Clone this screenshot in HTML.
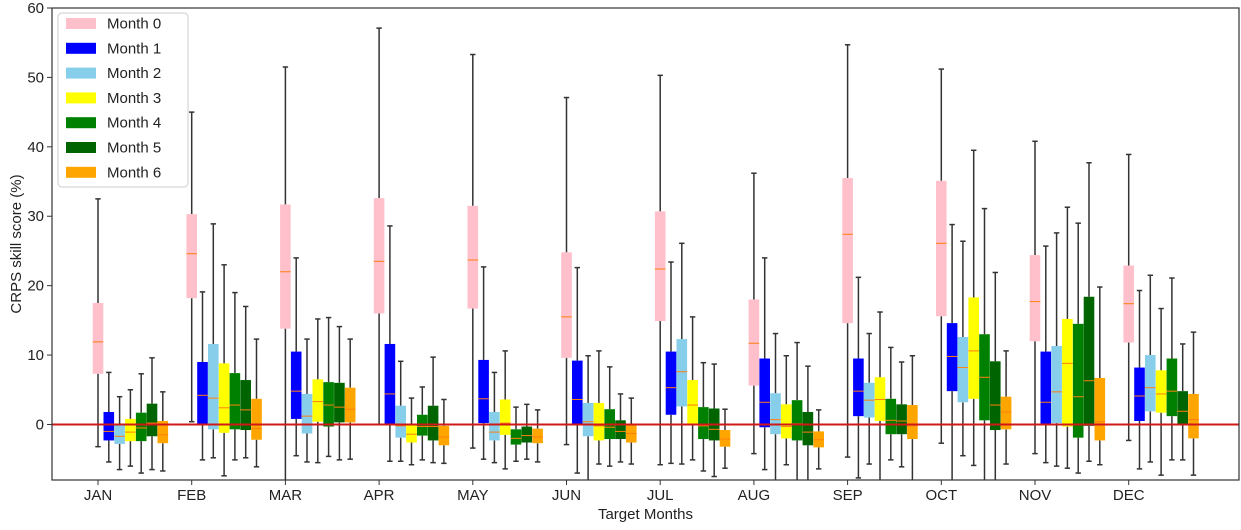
<!DOCTYPE html>
<html><head><meta charset="utf-8"><style>
body{margin:0;background:#fff;font-family:"Liberation Sans",sans-serif}
</style></head><body>
<svg id="chart" width="1241" height="525" xmlns="http://www.w3.org/2000/svg" font-family="Liberation Sans, sans-serif"></svg>
<script>
const categories=["JAN","FEB","MAR","APR","MAY","JUN","JUL","AUG","SEP","OCT","NOV","DEC"];
const seriesNames=["Month 0","Month 1","Month 2","Month 3","Month 4","Month 5","Month 6"];
const seriesColors=["#ffc0cb","#0000ff","#87ceeb","#ffff00","#008000","#006400","#ffa500"];
const yTicks=[0,10,20,30,40,50,60];
// each entry: [whislo, q1, median, q3, whishi]; stats[month][series]
const statsJAN=[[-3.2,7.3,11.9,17.5,32.5],[-5.4,-2.3,-1.0,1.8,7.5],[-6.5,-2.8,-1.7,0.1,4.0],[-6.0,-2.4,-1.1,0.8,5.0],[-7.0,-2.4,-0.5,1.7,7.3],[-6.5,-1.7,0.2,3.0,9.6],[-6.7,-2.7,-1.5,0.5,4.7]];
const statsFEB=[[0.4,18.2,24.6,30.3,45.0],[-5.1,0.0,4.2,9.0,19.1],[-4.8,-0.7,3.8,11.6,28.9],[-7.4,-1.2,2.4,8.8,23.0],[-5.1,-0.7,2.8,7.4,19.0],[-4.8,-0.8,2.1,6.4,17.0],[-6.1,-2.2,-0.6,3.7,12.3]];
const statsMAR=[[-9.0,13.8,22.0,31.7,51.5],[-4.5,0.8,4.8,10.5,24.0],[-5.4,-1.3,1.2,4.4,12.3],[-5.5,0.4,3.3,6.5,15.2],[-4.6,-0.3,2.8,6.1,15.4],[-5.1,0.3,2.5,6.0,14.1],[-5.0,0.3,2.2,5.3,12.3]];
const statsAPR=[[0.0,16.0,23.5,32.6,57.1],[-5.3,-0.1,4.4,11.6,28.6],[-5.3,-1.9,-0.2,2.7,9.1],[-5.8,-2.6,-1.4,0.1,3.8],[-5.1,-1.6,-0.3,1.4,5.4],[-5.5,-2.3,-0.3,2.7,9.7],[-5.6,-3.0,-1.8,-0.2,3.6]];
const statsMAY=[[-3.4,16.7,23.7,31.5,53.3],[-5.0,0.2,3.7,9.3,22.7],[-5.5,-2.3,-1.1,1.8,7.5],[-6.4,-1.5,0.2,3.6,10.6],[-5.3,-2.9,-2.0,-0.7,2.5],[-5.0,-2.6,-1.6,-0.3,2.9],[-5.4,-2.7,-1.8,-0.6,2.1]];
const statsJUN=[[-2.9,9.6,15.5,24.8,47.1],[-7.0,-0.1,3.6,9.2,22.6],[-9.0,-1.7,0.4,3.1,9.9],[-5.7,-2.3,-0.2,3.1,10.6],[-6.0,-2.1,-0.4,2.2,8.3],[-5.4,-2.1,-1.0,0.6,4.4],[-5.7,-2.6,-1.3,0.1,3.8]];
const statsJUL=[[-5.8,14.9,22.4,30.7,50.3],[-5.6,1.4,5.3,10.5,23.4],[-5.7,2.6,7.6,12.3,26.1],[-5.1,-0.1,2.8,6.4,15.5],[-6.7,-2.1,-0.2,2.5,8.9],[-7.5,-2.3,-0.7,2.3,8.7],[-6.3,-3.2,-2.1,-0.8,2.2]];
const statsAUG=[[-4.2,5.6,11.7,18.0,36.2],[-6.5,-0.4,3.2,9.5,24.0],[-9.0,-1.4,0.7,4.5,13.1],[-5.8,-2.0,-0.3,2.9,9.9],[-9.0,-2.3,0.1,3.5,11.8],[-9.0,-3.0,-1.1,1.8,8.4],[-6.4,-3.3,-2.2,-1.0,2.1]];
const statsSEP=[[-4.7,14.6,27.4,35.5,54.7],[-7.7,1.2,4.8,9.5,21.2],[-5.7,1.0,3.5,6.0,13.1],[-9.0,0.5,3.6,6.8,16.2],[-5.1,-1.4,0.6,3.7,11.1],[-6.1,-1.4,0.5,2.9,9.0],[-9.0,-2.1,-0.2,2.8,9.9]];
const statsOCT=[[-2.7,15.6,26.1,35.1,51.2],[-9.0,4.8,9.8,14.6,28.8],[-4.5,3.2,8.2,12.6,26.4],[-5.9,3.7,10.6,18.3,39.5],[-9.0,0.6,6.8,13.0,31.1],[-9.0,-0.8,2.8,9.1,21.9],[-5.7,-0.7,1.8,4.0,10.6]];
const statsNOV=[[-4.2,12.0,17.7,24.4,40.8],[-5.5,-0.1,3.2,10.5,25.7],[-6.0,0.2,4.7,11.3,27.6],[-6.3,-0.3,8.8,15.2,31.3],[-7.0,-1.9,4.0,14.5,29.0],[-5.3,-0.2,6.3,18.4,37.7],[-5.8,-2.3,0.4,6.7,19.8]];
const statsDEC=[[-2.3,11.8,17.4,22.9,38.9],[-6.4,0.5,4.1,8.2,19.3],[-5.4,1.9,5.3,10.0,21.5],[-7.3,1.7,4.4,7.8,16.7],[-5.1,1.2,4.8,9.5,21.1],[-5.1,0.0,1.9,4.8,11.6],[-7.3,-2.0,0.7,4.4,13.3]];
const stats=[statsJAN,statsFEB,statsMAR,statsAPR,statsMAY,statsJUN,statsJUL,statsAUG,statsSEP,statsOCT,statsNOV,statsDEC];

const NS="http://www.w3.org/2000/svg";
const svg=document.getElementById('chart');
const L=52,R=1239,T=8,B=480,yMin=-8,yMax=60;
const x0=98,xStep=93.7,boxStep=10.8,boxW=10.6;
const X=i=>x0+i*xStep;
const Y=v=>B-(v-yMin)/(yMax-yMin)*(B-T);
function el(tag,attrs,parent){const e=document.createElementNS(NS,tag);for(const k in attrs)e.setAttribute(k,attrs[k]);(parent||svg).appendChild(e);return e;}
const defs=el('defs',{});
const cp=el('clipPath',{id:'clip'},defs);
el('rect',{x:L,y:T,width:R-L,height:B-T},cp);
const plot=el('g',{'clip-path':'url(#clip)'});


stats.forEach((month,i)=>{
  const g=el('g',{},plot);
  
  
  month.forEach((s,k)=>{
    const cx=X(i)+k*boxStep;
    const [lo,q1,md,q3,hi]=s;
    const wg=el('g',{stroke:'#333',"stroke-width":1.5},g);
    
    
    el('line',{x1:cx,x2:cx,y1:Y(hi),y2:Y(q3)},wg);
    el('line',{x1:cx,x2:cx,y1:Y(q1),y2:Y(lo)},wg);
    el('line',{x1:cx-2.7,x2:cx+2.7,y1:Y(hi),y2:Y(hi)},wg);
    el('line',{x1:cx-2.7,x2:cx+2.7,y1:Y(lo),y2:Y(lo)},wg);
    const r=el('rect',{x:cx-boxW/2,y:Y(q3),width:boxW,height:Y(q1)-Y(q3),fill:seriesColors[k]},g);
    
    
    const m=el('line',{x1:cx-boxW/2,x2:cx+boxW/2,y1:Y(md),y2:Y(md),stroke:'#ff7f0e',"stroke-width":1},g);
    
    
  });
});
const zl=el('line',{x1:L,x2:R,y1:Y(0),y2:Y(0),stroke:'#d01818',"stroke-width":2},plot);


const frame=el('rect',{x:L,y:T,width:R-L,height:B-T,fill:'none',stroke:'#333',"stroke-width":1.2});


yTicks.forEach(v=>{
  el('line',{x1:L-5,x2:L,y1:Y(v),y2:Y(v),stroke:'#333'});
  const t=el('text',{x:L-8,y:Y(v)+5,"text-anchor":'end',"font-size":15,fill:'#222'});
  t.textContent=v;
  
  
});
categories.forEach((c,i)=>{
  el('line',{x1:X(i),x2:X(i),y1:B,y2:B+5,stroke:'#333'});
  const t=el('text',{x:X(i),y:B+20,"text-anchor":'middle',"font-size":15,fill:'#222'});
  t.textContent=c;
  
  
});
const xl=el('text',{x:(L+R)/2,y:519,"text-anchor":'middle',"font-size":15,fill:'#222'});
xl.textContent='Target Months';


const yl=el('text',{x:0,y:0,transform:'translate(21,244) rotate(-90)',"text-anchor":'middle',"font-size":15,fill:'#222'});
yl.textContent='CRPS skill score (%)';


const lg=el('g',{});


el('rect',{x:58,y:13,width:130,height:174,rx:4,fill:'#fff',"fill-opacity":0.85,stroke:'#ccc'},lg);
seriesNames.forEach((n,k)=>{
  const yy=23+k*24.8;
  const e=el('g',{},lg);
  
  
  el('rect',{x:66,y:yy-5,width:30,height:11,fill:seriesColors[k]},e);
  const t=el('text',{x:107,y:yy+5.5,"font-size":15,fill:'#222'},e);
  t.textContent=n;
});
</script>
</body></html>
